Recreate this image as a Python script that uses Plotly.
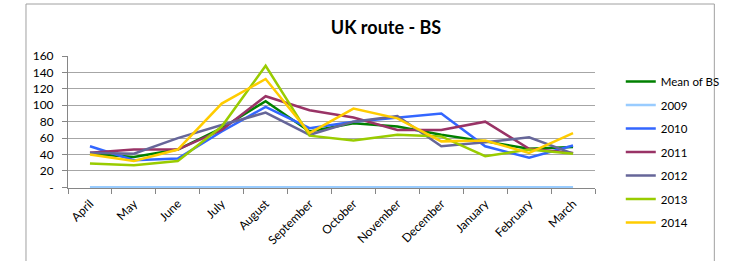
import plotly.graph_objects as go

months = ["April", "May", "June", "July", "August", "September", "October",
          "November", "December", "January", "February", "March"]

mean_bs = [41, 37, 46, 72, 105, 68, 78, 74, 64, 56, 47, 49]
y2009 = [0, 0, 0, 0, 0, 0, 0, 0, 0, 0, 0, 0]
y2010 = [50, 33, 35, 68, 98, 72, 80, 85, 90, 50, 36, 51]
y2011 = [42, 46, 46, 70, 111, 94, 85, 70, 70, 80, 47, 42]
y2012 = [42, 41, 60, 76, 91, 64, 80, 87, 50, 55, 61, 41]
y2013 = [29, 27, 32, 74, 148, 63, 57, 64, 62, 38, 46, 41]
y2014 = [40, 32, 46, 102, 132, 66, 96, 84, 56, 57, 42, 66]

y_tickvals = [0, 20, 40, 60, 80, 100, 120, 140, 160]
y_ticktext = ["-", "20", "40", "60", "80", "100", "120", "140", "160"]

series = [
    ("Mean of BS", mean_bs, "#008000"),
    ("2009", y2009, "#99ccff"),
    ("2010", y2010, "#3366ff"),
    ("2011", y2011, "#993366"),
    ("2012", y2012, "#666699"),
    ("2013", y2013, "#99cc00"),
    ("2014", y2014, "#ffcc00"),
]

FONT = "Lato, Calibri, Carlito, sans-serif"

fig = go.Figure()
for i, (name, vals, col) in enumerate(series):
    fig.add_trace(go.Scatter(
        x=months, y=vals, name=name, mode="lines",
        line=dict(color=col, width=2.5),
        legendgroup=f"g{i}",
    ))

fig.update_layout(
    width=737, height=261,
    margin=dict(l=68, r=117, t=56, b=73),
    paper_bgcolor="white", plot_bgcolor="white",
    font=dict(family=FONT, size=12, color="#000000"),
    title=dict(text="<b>UK route - BS</b>", x=386 / 737, xanchor="center",
               y=1 - 28 / 261, yanchor="middle",
               font=dict(family=FONT, size=18, color="#000000")),
    showlegend=True,
    legend=dict(x=(647 - 68) / 552, xanchor="left", y=1 - (67 - 56) / 132, yanchor="top",
                font=dict(family=FONT, size=11.5), traceorder="grouped",
                tracegroupgap=4.5, bgcolor="rgba(0,0,0,0)", maxheight=250),
    xaxis=dict(
        type="category", tickangle=-45, showgrid=False, automargin=False,
        showline=True, linecolor="#868686", linewidth=1,
        ticks="outside", tickson="boundaries", ticklen=5, tickcolor="#868686",
        tickfont=dict(family=FONT, size=12), ticklabelstandoff=3,
        range=[-0.5, 11.5],
    ),
    yaxis=dict(
        range=[-0.8, 160], tickvals=y_tickvals, ticktext=y_ticktext, automargin=False,
        showgrid=True, gridcolor="#a6a6a6", gridwidth=1,
        showline=True, linecolor="#868686", linewidth=1,
        ticks="outside", ticklen=5, tickcolor="#868686",
        tickfont=dict(family=FONT, size=12),
        zeroline=False, ticklabelstandoff=6,
    ),
    shapes=[dict(type="rect", xref="paper", yref="paper",
                 x0=(24 - 68) / 552, x1=(745 - 68) / 552,
                 y0=-(270 - 188) / 132, y1=1 + (56 - 4) / 132,
                 line=dict(color="#a0a0a0", width=1), fillcolor="rgba(0,0,0,0)",
                 layer="below")],
)

fig.write_html("out.html", config={"displayModeBar": False},
               post_script="document.body.style.margin='0';document.body.style.padding='0';")
